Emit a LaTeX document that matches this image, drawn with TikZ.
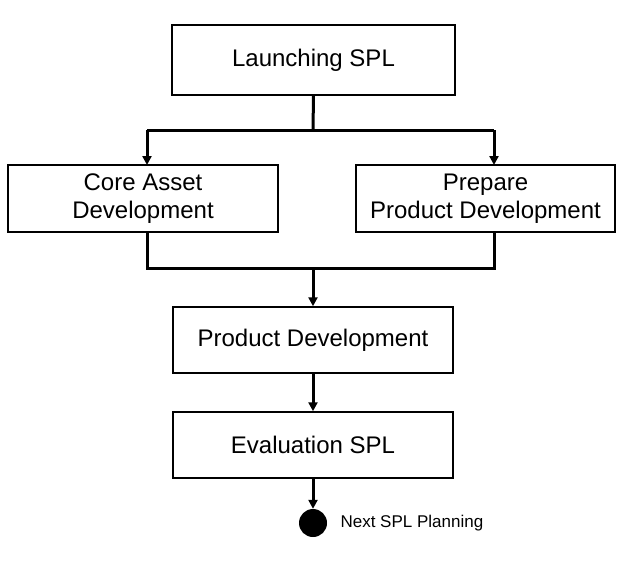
\documentclass[tikz,border=0pt]{standalone}
\usepackage{fontspec}
\setmainfont{Liberation Sans}
\usetikzlibrary{arrows.meta}
\begin{document}
\begin{tikzpicture}[x=1pt,y=-1pt,
  box/.style={draw,line width=1.5pt,inner sep=0pt,align=center,font=\fontsize{24}{28}\selectfont},
  conn/.style={line width=3pt},
  arr/.style={conn,-{Triangle[length=9pt,width=9pt]}}]
\useasboundingbox (0,0) rectangle (642,570);
\node[box,minimum width=283pt,minimum height=70pt] (launch) at (313.5,60) {Launching SPL};
\node[box,minimum width=270pt,minimum height=67pt] (core) at (143,198.5) {Core Asset\\Development};
\node[box,minimum width=259pt,minimum height=67pt] (prep) at (485.5,198.5) {Prepare\\Product Development};
\node[box,minimum width=280pt,minimum height=66pt] (prod) at (313,340) {Product Development};
\node[box,minimum width=280pt,minimum height=66pt] (eval) at (313,445) {Evaluation SPL};
\node[circle,fill=black,minimum size=28pt,inner sep=0pt] (next) at (313,523) {};
\node[anchor=west,font=\fontsize{17}{20}\selectfont] (lbl) at (337,523) {Next SPL Planning};
\coordinate (s) at (313,130);
\coordinate (j) at (313,268);
\draw[conn] (launch.south) -- (s);
\draw[conn] (147,130) -- (494,130);
\draw[arr] (147,130) -- (147,165);
\draw[arr] (494,130) -- (494,165);
\draw[conn] (147,232) -- (147,268) -- (494,268) -- (494,232);
\draw[arr] (j) -- (prod.north);
\draw[arr] (prod.south) -- (eval.north);
\draw[arr] (eval.south) -- (next.north);
\end{tikzpicture}
\end{document}
